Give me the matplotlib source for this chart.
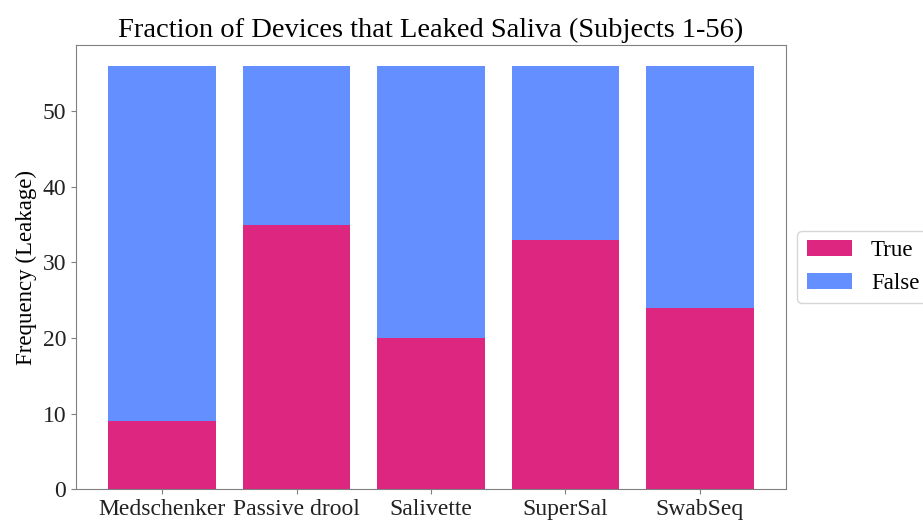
import matplotlib
matplotlib.use("Agg")
import matplotlib.pyplot as plt
import numpy as np

devices = ["Medschenker", "Passive drool", "Salivette", "SuperSal", "SwabSeq"]
true_counts = [9, 35, 20, 33, 24]
false_counts = [47, 21, 36, 23, 32]
series_labels = ["True", "False"]
colors = ["#dc267f", "#648fff"]

plt.rcParams["font.family"] = ["Liberation Serif", "DejaVu Serif"]

fig = plt.figure(figsize=(9.23, 5.21), dpi=100)
ax = fig.add_axes([0.0823, 0.0614, 0.7693, 0.8522])

x = np.arange(len(devices))
ax.bar(x, true_counts, width=0.8, color=colors[0], label=series_labels[0])
ax.bar(x, false_counts, width=0.8, bottom=true_counts, color=colors[1], label=series_labels[1])

ax.set_xticks(x)
ax.set_xticklabels(devices, fontsize=17)
ax.tick_params(axis="y", labelsize=17)
ax.set_ylabel("Frequency (Leakage)", fontsize=16.5)
ax.set_title("Fraction of Devices that Leaked Saliva (Subjects 1-56)", fontsize=20.5)

for s in ax.spines.values():
    s.set_color("#808080")
ax.tick_params(axis="both", colors="#222222")
ax.tick_params(axis="both", color="#808080")

ax.legend(loc="center left", bbox_to_anchor=(1.0, 0.5), fontsize=16.5, frameon=True)

fig.savefig("out.png", dpi=100)
